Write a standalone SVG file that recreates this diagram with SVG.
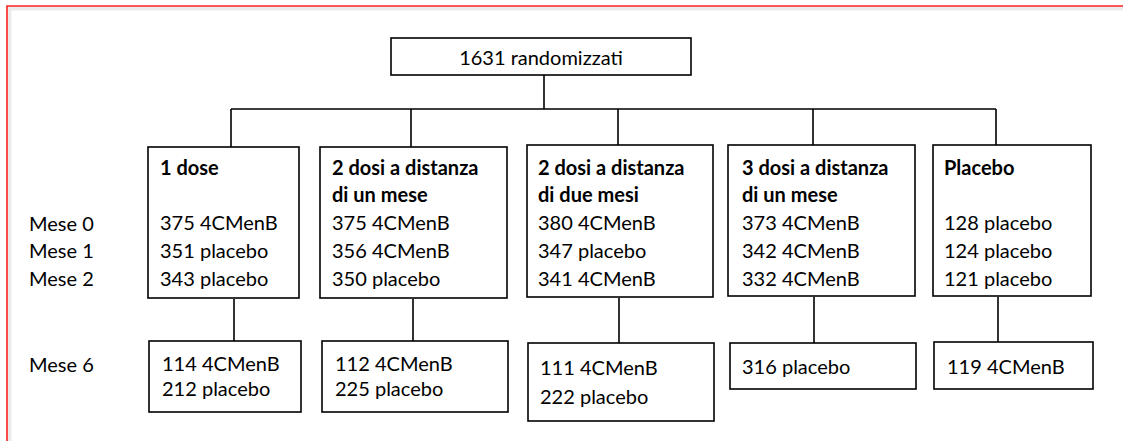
<svg xmlns="http://www.w3.org/2000/svg" width="1123" height="441" viewBox="0 0 1123 441">
<style>
.box{fill:#fff;stroke:#000;stroke-width:1.6}
.t{font-family:Lato,"Liberation Sans",sans-serif;font-size:20px;fill:#000}
.b{font-weight:bold}
.ln{stroke:#000;stroke-width:1.6;fill:none}
</style>
<rect width="1123" height="441" fill="#fff"/>
<g id="frame">
<path d="M9.5,441 V8.5 H1123" fill="none" stroke="#000" stroke-opacity="0.08" stroke-width="4"/>
<path d="M7,441 V6 H1123" fill="none" stroke="#ff2020" stroke-width="1.6"/>
</g>
<g id="connectors">
<path class="ln" d="M544,75 V109 M231,109 H996 M231,109 V147 M411,109 V147 M618,109 V145 M813,109 V145 M996,109 V145"/>
<path class="ln" d="M234,299 V341 M413,299 V341 M619,298 V343 M814,297 V343 M998,297 V342"/>
</g>
<g id="months">
<text class="t" x="29" y="231">Mese 0</text>
<text class="t" x="29" y="258">Mese 1</text>
<text class="t" x="29" y="286">Mese 2</text>
<text class="t" x="29" y="372">Mese 6</text>
</g>
<g id="root">
<rect class="box" x="391" y="38" width="300" height="37"/>
<text class="t" x="541" y="65" text-anchor="middle">1631 randomizzati</text>
</g>
<g id="arm1">
<rect class="box" x="148" y="147" width="151" height="151"/>
<text class="t b" x="160" y="175">1 dose</text>
<text class="t" x="160" y="230">375 4CMenB</text>
<text class="t" x="160" y="258">351 placebo</text>
<text class="t" x="160" y="286">343 placebo</text>
</g>
<g id="arm2">
<rect class="box" x="320" y="147" width="187" height="151"/>
<text class="t b" x="332" y="175">2 dosi a distanza</text>
<text class="t b" x="332" y="202">di un mese</text>
<text class="t" x="332" y="230">375 4CMenB</text>
<text class="t" x="332" y="258">356 4CMenB</text>
<text class="t" x="332" y="286">350 placebo</text>
</g>
<g id="arm3">
<rect class="box" x="527" y="145" width="186" height="152"/>
<text class="t b" x="538" y="175">2 dosi a distanza</text>
<text class="t b" x="538" y="202">di due mesi</text>
<text class="t" x="538" y="230">380 4CMenB</text>
<text class="t" x="538" y="258">347 placebo</text>
<text class="t" x="538" y="286">341 4CMenB</text>
</g>
<g id="arm4">
<rect class="box" x="728" y="145" width="187" height="151"/>
<text class="t b" x="742" y="175">3 dosi a distanza</text>
<text class="t b" x="742" y="202">di un mese</text>
<text class="t" x="742" y="230">373 4CMenB</text>
<text class="t" x="742" y="258">342 4CMenB</text>
<text class="t" x="742" y="286">332 4CMenB</text>
</g>
<g id="arm5">
<rect class="box" x="933" y="145" width="158" height="151"/>
<text class="t b" x="944" y="175">Placebo</text>
<text class="t" x="944" y="230">128 placebo</text>
<text class="t" x="944" y="258">124 placebo</text>
<text class="t" x="944" y="286">121 placebo</text>
</g>
<g id="m6arm1">
<rect class="box" x="149" y="341" width="152" height="71"/>
<text class="t" x="162" y="371">114 4CMenB</text>
<text class="t" x="162" y="396">212 placebo</text>
</g>
<g id="m6arm2">
<rect class="box" x="322" y="341" width="186" height="71"/>
<text class="t" x="335" y="371">112 4CMenB</text>
<text class="t" x="335" y="396">225 placebo</text>
</g>
<g id="m6arm3">
<rect class="box" x="528" y="343" width="186" height="78"/>
<text class="t" x="540" y="375">111  4CMenB</text>
<text class="t" x="540" y="404">222  placebo</text>
</g>
<g id="m6arm4">
<rect class="box" x="730" y="343" width="186" height="46"/>
<text class="t" x="742" y="374">316 placebo</text>
</g>
<g id="m6arm5">
<rect class="box" x="934" y="342" width="159" height="47"/>
<text class="t" x="947" y="374">119 4CMenB</text>
</g>
</svg>
